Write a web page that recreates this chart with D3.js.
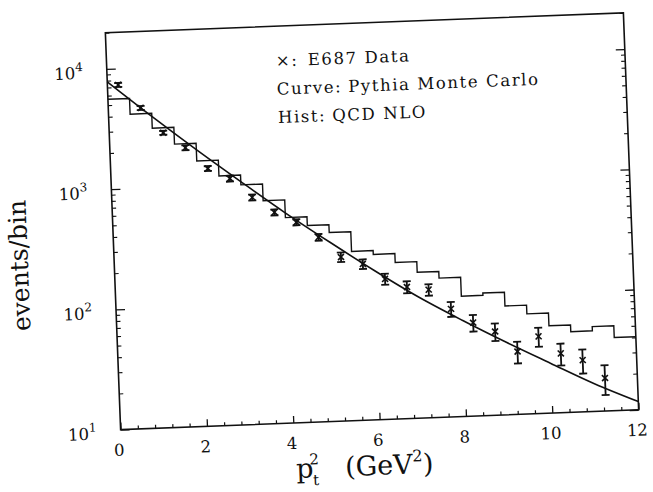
<!DOCTYPE html>
<html>
<head>
<meta charset="utf-8">
<script src="https://cdn.jsdelivr.net/npm/d3@7"></script>
<style>
  body { margin: 0; background: #fff; }
  svg { display: block; }
  text { font-family: "DejaVu Serif", "Liberation Serif", serif; fill: #111; }
</style>
</head>
<body>
<svg id="chart" width="653" height="492"></svg>
<script>
// E687 charm photoproduction: pt^2 spectrum, events per 0.5 GeV^2 bin
const dataX   = [0.25, 0.75, 1.25, 1.75, 2.25, 2.75, 3.25, 3.75, 4.25, 4.75, 5.25, 5.75,
                 6.25, 6.75, 7.25, 7.75, 8.25, 8.75, 9.25, 9.75, 10.25, 10.75, 11.25];
const dataY   = [7310, 4630, 2830, 2094, 1383, 1124, 771, 570, 464, 343, 231, 199,
                 147, 124, 116, 79, 59.7, 49.6, 33.3, 43.8, 31.1, 26.9, 18.8];
const dataErr = [280, 177, 108, 100, 66, 64, 44, 33, 27, 22, 21, 18,
                 15.4, 14.1, 12.6, 11.2, 9.4, 8.2, 6.8, 7.9, 6.4, 6.1, 5.2];

// QCD NLO prediction, 24 bins of width 0.5 starting at 0
const histStart = 0;
const histWidth = 0.5;
const histY = [5590, 4140, 3117, 2260, 1610, 1191, 988, 717, 511, 432, 372, 255,
               237, 200, 163, 143.5, 100, 104.5, 80.3, 67.9, 53.2, 46.8, 50.7, 40.5];

// Pythia Monte Carlo curve
const curveX = [0, 1, 2, 3, 4, 5, 6, 7, 8, 9, 10, 11, 12];
const curveY = [7800, 3900, 2000, 1050, 560, 310, 175, 102, 63, 40, 26, 17, 11.7];

// axes
const xDomain = [0, 12];
const yDomain = [10, 20000];
const xMajorTicks = [0, 2, 4, 6, 8, 10, 12];
const xTickLabels = ["0", "2", "4", "6", "8", "10", "12"];
const yDecades = [1, 2, 3, 4];

const legendRows = [
  { key: "×:", name: "E687 Data", gap: 32 },
  { key: "Curve:", name: "Pythia Monte Carlo", gap: 0 },
  { key: "Hist:", name: "QCD NLO", gap: 0 }
];
const xTitle = { base: "p", sub: "t", sup: "2", unit: "(GeV", unitSup: "2", close: ")" };
const yTitle = "events/bin";

// ---- layout ----
const svg = d3.select("#chart");
const mLeft = 112.8, mTop = 22.65, W = 518.4, H = 397.2;
const cx = mLeft + W / 2, cy = mTop + H / 2;
const ink = "#111";

// the whole page is set slightly tilted
const root = svg.append("g").attr("transform", `rotate(-2.2, ${cx}, ${cy})`);
const plot = root.append("g").attr("transform", `translate(${mLeft},${mTop})`);

const x = d3.scaleLinear().domain(xDomain).range([0, W]);
const y = d3.scaleLog().domain(yDomain).range([H, 0]);

// frame
plot.append("rect")
  .attr("width", W).attr("height", H)
  .attr("fill", "none").attr("stroke", ink).attr("stroke-width", 1.6);

// x ticks (inward, bottom only)
const xMinor = d3.range(0, 12.001, 0.4).filter(v => Math.abs(v / 2 - Math.round(v / 2)) > 1e-6);
plot.append("g").attr("transform", `translate(0,${H})`)
  .call(d3.axisBottom(x).tickValues(xMajorTicks).tickSize(-7).tickFormat(""))
  .call(g => g.select(".domain").remove())
  .call(g => g.selectAll("line").attr("stroke", ink).attr("stroke-width", 1.3));
plot.append("g").attr("transform", `translate(0,${H})`)
  .call(d3.axisBottom(x).tickValues(xMinor).tickSize(-3.5).tickFormat(""))
  .call(g => g.select(".domain").remove())
  .call(g => g.selectAll("line").attr("stroke", ink).attr("stroke-width", 1.2));

// y ticks (inward, left and right)
const yMajor = yDecades.map(d => Math.pow(10, d));
const yMinor = [];
yDecades.forEach(d => { for (let m = 2; m <= 9; m++) { const v = m * Math.pow(10, d); if (v <= yDomain[1]) yMinor.push(v); } });
[[d3.axisLeft, 0], [d3.axisRight, W]].forEach(([ax, tx]) => {
  plot.append("g").attr("transform", `translate(${tx},0)`)
    .call(ax(y).tickValues(yMajor).tickSize(-9).tickFormat(""))
    .call(g => g.select(".domain").remove())
    .call(g => g.selectAll("line").attr("stroke", ink).attr("stroke-width", 1.3));
  plot.append("g").attr("transform", `translate(${tx},0)`)
    .call(ax(y).tickValues(yMinor).tickSize(-4).tickFormat(""))
    .call(g => g.select(".domain").remove())
    .call(g => g.selectAll("line").attr("stroke", ink).attr("stroke-width", 1.1));
});

// tick labels
plot.append("g").selectAll("text").data(xMajorTicks).join("text")
  .attr("x", d => x(d) - 2)
  .attr("y", H + 26)
  .attr("text-anchor", "middle")
  .attr("font-size", 16.5)
  .text((d, i) => xTickLabels[i]);

const yl = plot.append("g").selectAll("text").data(yDecades).join("text")
  .attr("x", -24)
  .attr("y", d => y(Math.pow(10, d)) + 9)
  .attr("text-anchor", "end")
  .attr("font-size", 16.5);
yl.append("tspan").text("10");
yl.append("tspan").attr("dy", -8).attr("font-size", 12).text(d => d);

// axis titles
const xt = plot.append("text")
  .attr("x", 174).attr("y", H + 55)
  .attr("font-size", 27);
xt.append("tspan").text(xTitle.base);
xt.append("tspan").attr("font-size", 15).attr("dx", -1).attr("dy", 8).text(xTitle.sub);
xt.append("tspan").attr("font-size", 15).attr("dx", -9).attr("dy", -21).text(xTitle.sup);
xt.append("tspan").attr("dx", 26).attr("dy", 13).text(xTitle.unit);
xt.append("tspan").attr("font-size", 16).attr("dy", -12).text(xTitle.unitSup);
xt.append("tspan").attr("dy", 12).text(xTitle.close);

plot.append("text")
  .attr("transform", `translate(${26.5 - mLeft},${252 - mTop}) rotate(-90)`)
  .attr("text-anchor", "middle")
  .attr("font-size", 25)
  .text(yTitle);

// legend
const lg = plot.append("g").attr("transform", `translate(${282 - mLeft},${63 - mTop})`);
legendRows.forEach((r, i) => {
  const t = lg.append("text").attr("y", i * 28.3).attr("font-size", 16.5).attr("letter-spacing", 1.6);
  t.append("tspan").text(r.key);
  if (r.gap) t.append("tspan").attr("x", r.gap).text(r.name);
  else t.append("tspan").attr("dx", 6).text(r.name);
});

// histogram (step)
const histPts = histY.map((v, i) => [histStart + i * histWidth, v]);
histPts.push([histStart + histY.length * histWidth, histY[histY.length - 1]]);
plot.append("path")
  .datum(histPts)
  .attr("fill", "none").attr("stroke", ink).attr("stroke-width", 1.4)
  .attr("d", d3.line().x(d => x(d[0])).y(d => y(d[1])).curve(d3.curveStepAfter));

// Monte Carlo curve
plot.append("path")
  .datum(curveX.map((v, i) => [v, curveY[i]]))
  .attr("fill", "none").attr("stroke", ink).attr("stroke-width", 1.6)
  .attr("d", d3.line().x(d => x(d[0])).y(d => y(d[1])).curve(d3.curveMonotoneX));

// data points with error bars
const pts = plot.append("g").selectAll("g").data(dataX.map((v, i) => ({ x: v, y: dataY[i], e: dataErr[i] })))
  .join("g").attr("stroke", ink);
pts.append("line")
  .attr("x1", d => x(d.x)).attr("x2", d => x(d.x))
  .attr("y1", d => y(d.y + d.e)).attr("y2", d => y(d.y - d.e))
  .attr("stroke-width", 1.8);
[1, -1].forEach(s => {
  pts.append("line")
    .attr("x1", d => x(d.x) - 4).attr("x2", d => x(d.x) + 4)
    .attr("y1", d => y(d.y + s * d.e)).attr("y2", d => y(d.y + s * d.e))
    .attr("stroke-width", 1.8);
  pts.append("line")
    .attr("x1", d => x(d.x) - 3).attr("x2", d => x(d.x) + 3)
    .attr("y1", d => y(d.y) - 3 * s).attr("y2", d => y(d.y) + 3 * s)
    .attr("stroke-width", 1.6);
});
</script>
</body>
</html>
